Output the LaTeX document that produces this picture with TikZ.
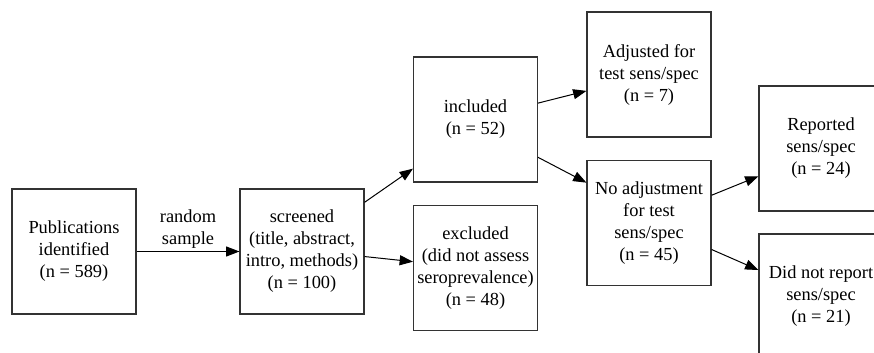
\documentclass[tikz,border=0pt]{standalone}
\usepackage{fontspec}
\setmainfont{Liberation Serif}
\usetikzlibrary{arrows.meta,calc}
\begin{document}
\begin{tikzpicture}[x=0.75pt,y=-0.75pt,
  box/.style={draw=black!80,line width=0.8pt,minimum width=93pt,minimum height=93.75pt,
    align=center,inner sep=0pt,font=\fontsize{13.8}{16.5}\selectfont},
  arr/.style={draw=black,line width=0.75pt,-{Triangle[length=10pt,width=7.5pt]}},
  lbl/.style={align=center,inner sep=0pt,font=\fontsize{13.8}{16.5}\selectfont}]
\useasboundingbox (0,0) rectangle (874,353);
\node[box] (A) at (74,251.5) {Publications\\identified\\(n = 589)};
\node[box] (B) at (302,251.5) {screened\\(title, abstract,\\intro, methods)\\(n = 100)};
\node[box] (inc) at (475.5,119.5) {included\\(n = 52)};
\node[box] (exc) at (475.5,268) {excluded\\(did not assess\\seroprevalence)\\(n = 48)};
\node[box] (adj) at (649,74.5) {Adjusted for\\test sens/spec\\(n = 7)};
\node[box] (noadj) at (649,223) {No adjustment\\for test\\sens/spec\\(n = 45)};
\node[box] (rep) at (821,148.5) {Reported\\sens/spec\\(n = 24)};
\node[box] (dnr) at (821,296.5) {Did not report\\sens/spec\\(n = 21)};
\draw[arr] (A.east) -- node[lbl,yshift=16.5pt] (rs) {random\\sample} (B.west);
\draw[arr] ($(B.north east)!0.11!(B.south east)$) -- ($(inc.north west)!0.89!(inc.south west)$);
\draw[arr] ($(B.north east)!0.54!(B.south east)$) -- ($(exc.north west)!0.45!(exc.south west)$);
\draw[arr] ($(inc.north east)!0.37!(inc.south east)$) -- ($(adj.north west)!0.63!(adj.south west)$);
\draw[arr] ($(inc.north east)!0.80!(inc.south east)$) -- ($(noadj.north west)!0.18!(noadj.south west)$);
\draw[arr] ($(noadj.north east)!0.28!(noadj.south east)$) -- ($(rep.north west)!0.72!(rep.south west)$);
\draw[arr] ($(noadj.north east)!0.71!(noadj.south east)$) -- ($(dnr.north west)!0.29!(dnr.south west)$);
\end{tikzpicture}
\end{document}
